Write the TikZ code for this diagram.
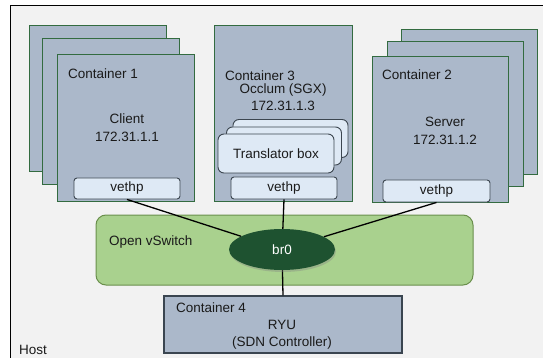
\documentclass[tikz,border=0pt]{standalone}
\usepackage{fontspec}
\setmainfont{Liberation Sans}
\usetikzlibrary{shapes.geometric,shadows}
\pgfdeclarelayer{front}
\pgfsetlayers{main,front}
\definecolor{hostfill}{HTML}{F2F2F2}
\definecolor{cfill}{HTML}{ABB8CA}
\definecolor{cborder}{HTML}{336B40}
\definecolor{vfill}{HTML}{DEE9F5}
\definecolor{vborder}{HTML}{3C4650}
\definecolor{ovsfill}{HTML}{A9D18E}
\definecolor{ovsborder}{HTML}{6A8F4C}
\definecolor{brfill}{HTML}{1E5230}
\definecolor{c4border}{HTML}{3A4550}
\definecolor{txt}{HTML}{1A1A1A}
\tikzset{
  every node/.style={font=\fontsize{13.5}{16}\selectfont, text=txt},
  cbox/.style={draw=cborder, fill=cfill, line width=1pt, minimum width=137pt, minimum height=146pt, inner sep=0pt},
  vbox/.style={draw=vborder, fill=vfill, line width=0.9pt, rounded corners=3pt, minimum width=106pt, minimum height=21pt, inner sep=0pt},
  tbox/.style={draw=vborder, fill=vfill, line width=0.9pt, rounded corners=6pt, minimum width=115pt, minimum height=38pt, inner sep=0pt},
  lbl/.style={anchor=west, inner sep=0pt},
  ctr/.style={inner sep=0pt},
  link/.style={draw=black, line width=1.3pt}
}
\begin{document}
\begin{tikzpicture}[x=1pt,y=-1pt]
\clip (0,0) rectangle (543,358);
\fill[white] (0,0) rectangle (543,358);
% host
\draw[fill=hostfill, line width=1pt] (10,6) rectangle (600,400);
\node[lbl] (host) at (19,350) {Host};
% container 1 stack
\node[cbox] (c1c) at (97.5,99) {};
\node[cbox] (c1b) at (111,112) {};
\node[cbox] (c1) at (125.5,128) {};
\node[lbl] (c1t) at (68,74) {Container 1};
\node[ctr] (c1n) at (127,119) {Client};
\node[ctr] (c1ip) at (127,137) {172.31.1.1};
\node[vbox] (v1) at (127,188.5) {vethp};
% container 3
\node[cbox, minimum width=138pt, minimum height=175pt] (c3) at (283,113.5) {};
\node[lbl] (c3t) at (225,76) {Container 3};
\node[ctr] (c3n) at (283,90) {Occlum (SGX)};
\node[ctr] (c3ip) at (283,106) {172.31.1.3};
\node[tbox] (tb3) at (290.5,138.5) {};
\node[tbox] (tb2) at (284,146) {};
\node[tbox, minimum width=116pt, minimum height=39pt] (tb) at (276,153.5) {Translator box};
\node[vbox, minimum height=22pt] (v3) at (284,188) {vethp};
% container 2 stack
\node[cbox, minimum width=136pt, minimum height=145pt] (c2c) at (469,102) {};
\node[cbox, minimum width=136pt, minimum height=145pt] (c2b) at (455,114.5) {};
\node[cbox, minimum width=136pt, minimum height=145pt] (c2) at (440,129.5) {};
\node[lbl] (c2t) at (382,75) {Container 2};
\node[ctr] (c2n) at (445,122) {Server};
\node[ctr] (c2ip) at (445,140) {172.31.1.2};
\node[vbox, minimum width=107pt, minimum height=22pt] (v2) at (436.5,191) {vethp};
% open vswitch
\node[draw=ovsborder, fill=ovsfill, line width=1pt, rounded corners=10pt, minimum width=377pt, minimum height=70pt, inner sep=0pt] (ovs) at (284.5,250) {};
\node[lbl] (ovst) at (109,242) {Open vSwitch};
% container 4
\node[draw=c4border, fill=cfill, line width=1.1pt, minimum width=238pt, minimum height=57pt, inner sep=0pt] (c4) at (283,324.5) {};
\node[lbl] (c4t) at (176,308) {Container 4};
\node[ctr] (c4n) at (282,325) {RYU};
\node[ctr] (c4d) at (282,343) {(SDN Controller)};
% bridge
\begin{pgfonlayer}{front}
\node[ellipse, fill=brfill, minimum width=106pt, minimum height=41pt, inner sep=0pt, text=white, drop shadow={opacity=0.35, shadow xshift=1pt, shadow yshift=-2pt}] (br0) at (282,249.5) {br0};
\end{pgfonlayer}
\draw[link] (v1.south) -- (br0);
\draw[link] (v3.south) -- (br0);
\draw[link] (v2.south) -- (br0);
\draw[link] (br0) -- (c4.north);
\end{tikzpicture}
\end{document}
